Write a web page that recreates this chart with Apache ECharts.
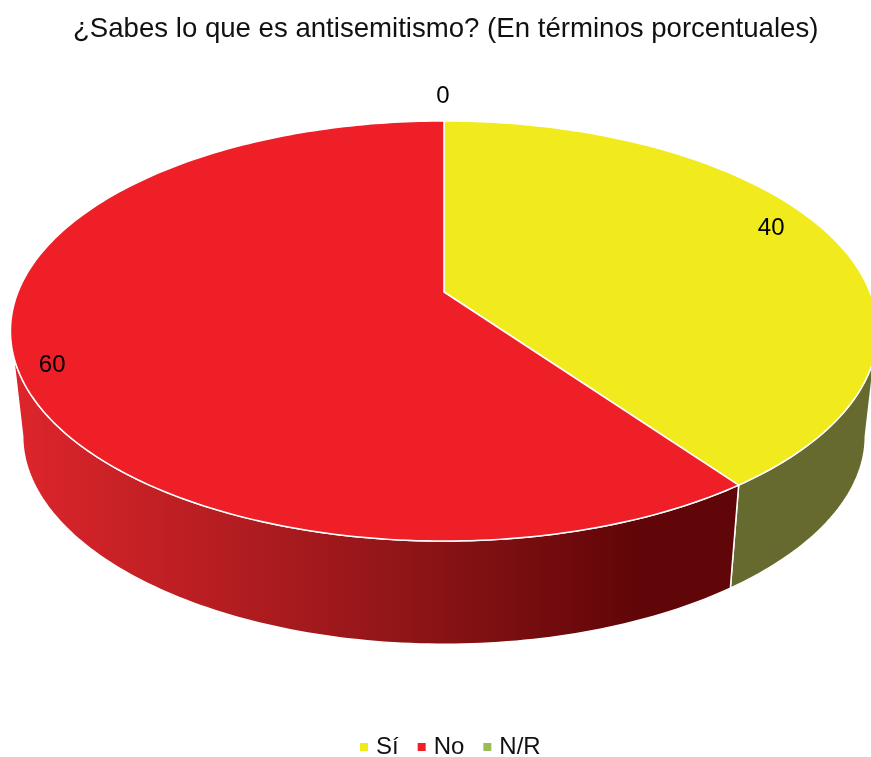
<!DOCTYPE html>
<html>
<head>
<meta charset="utf-8">
<style>
  html, body { margin: 0; padding: 0; background: #fff; }
  #chart { width: 871px; height: 757px; }
</style>
<script src="https://cdn.jsdelivr.net/npm/echarts@6/dist/echarts.min.js"></script>
</head>
<body>
<div id="chart"></div>
<script>
const categories = ['Sí', 'No', 'N/R']
const values = [40, 60, 0]
const topColors = ['#f1ea1d', '#ee1f27', '#9bbb59']

// side wall fill of each slice, N/R has no visible wall
const sideFills = [
  '#676a2e',
  {
    type: 'linear', global: true, x: 20, y: 0, x2: 640, y2: 0,
    colorStops: [
      { offset: 0, color: '#dc252b' },
      { offset: 0.3, color: '#b81e22' },
      { offset: 0.65, color: '#8c1416' },
      { offset: 1, color: '#600508' }
    ]
  },
  '#676a2e'
]

// label offset from the rim point at the middle of the slice
const labelOffsets = [[-56, -4], [38, 7], [-1, -25]]

// perspective of the disc, top face and lower rim
const CX = 444
const TOP = { y0: 292, ax: 426, kx: 0.1857, by: 202.8, ky: 0.1857 }
const BOTTOM = { y0: 398, ax: 414, kx: 0.1857, by: 197, ky: 0.2 }

function rim(p, deg) {
  const a = deg * Math.PI / 180
  const u = Math.sin(a)
  const v = -Math.cos(a)
  return [CX + p.ax * u / (1 - p.kx * v), p.y0 + p.by * v / (1 - p.ky * v)]
}

function arc(p, from, to) {
  const pts = []
  const n = Math.max(1, Math.ceil(Math.abs(to - from)))
  for (let i = 0; i <= n; i++) pts.push(rim(p, from + (to - from) * i / n))
  return pts
}

// only the wall between the two silhouette angles can be seen
const WALL_FROM = 180 - Math.acos(TOP.kx) * 180 / Math.PI
const WALL_TO = 360 - WALL_FROM

function renderSlice(index) {
  return function (params, api) {
    const start = api.value(0) * 3.6
    const end = api.value(1) * 3.6
    const children = []

    const a = Math.max(start, WALL_FROM)
    const b = Math.min(end, WALL_TO)
    if (b > a) {
      children.push({
        type: 'polygon',
        shape: { points: arc(TOP, a, b).concat(arc(BOTTOM, b, a)) },
        style: { fill: sideFills[index], stroke: '#fff', lineWidth: 1.5 }
      })
    }
    if (end > start) {
      children.push({
        type: 'polygon',
        shape: { points: [[CX, TOP.y0]].concat(arc(TOP, start, end)) },
        style: { fill: topColors[index], stroke: '#fff', lineWidth: 1.5 }
      })
    }

    const mid = rim(TOP, (start + end) / 2)
    children.push({
      type: 'text',
      z2: 10,
      x: mid[0] + labelOffsets[index][0],
      y: mid[1] + labelOffsets[index][1],
      style: {
        text: String(values[index]),
        fill: '#000',
        font: '24px "Liberation Sans"',
        align: 'center',
        verticalAlign: 'middle'
      }
    })
    return { type: 'group', children }
  }
}

let sum = 0
const series = categories.map((name, i) => {
  const from = sum
  sum += values[i]
  return {
    name,
    type: 'custom',
    coordinateSystem: 'none',
    silent: true,
    animation: false,
    itemStyle: { color: topColors[i] },
    renderItem: renderSlice(i),
    data: [[from, sum]]
  }
})

const chart = echarts.init(document.getElementById('chart'), null, { renderer: 'canvas' })
chart.setOption({
  animation: false,
  backgroundColor: '#fff',
  title: {
    text: '¿Sabes lo que es antisemitismo? (En términos porcentuales)',
    left: 68,
    top: 10,
    textStyle: {
      fontFamily: 'Liberation Sans',
      fontWeight: 'normal',
      fontSize: 27.6,
      color: '#111'
    }
  },
  legend: {
    data: categories,
    left: 355,
    top: 730,
    icon: 'rect',
    itemWidth: 8,
    itemHeight: 8,
    itemGap: 19,
    textStyle: {
      fontFamily: 'Liberation Sans',
      fontSize: 24,
      color: '#111',
      padding: [0, 0, 0, 3]
    }
  },
  series
})
</script>
</body>
</html>
